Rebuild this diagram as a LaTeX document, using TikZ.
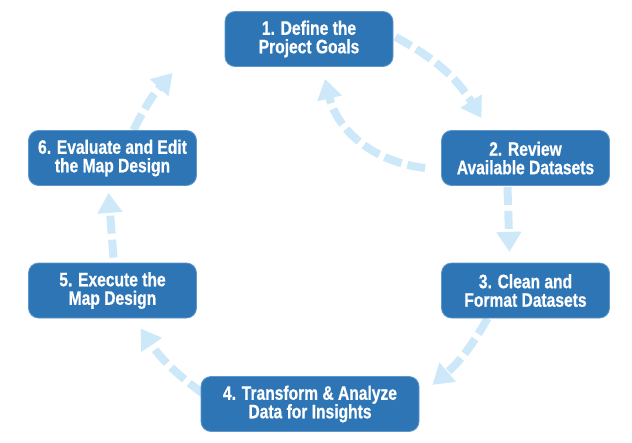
\documentclass[tikz,border=0pt]{standalone}
\usepackage{fontspec}
\newfontfamily\boxfont{Liberation Sans}[FakeStretch=0.8,FakeBold=0.6]
\usetikzlibrary{arrows.meta,calc,backgrounds}
\definecolor{boxblue}{HTML}{2E75B6}
\definecolor{boxedge}{HTML}{5E97CC}
\definecolor{arrowc}{HTML}{CDE8F9}
\tikzset{
  stepbox/.style={rectangle, rounded corners=10pt, fill=boxblue, draw=boxedge, line width=0.8pt,
    text=white, font=\boxfont\bfseries\fontsize{19.5}{18.5}\selectfont, align=center,
    minimum width=168pt, minimum height=55pt, inner sep=0pt},
  flow/.style={draw=arrowc, line width=8pt, dash pattern=on 18pt off 6pt,
    -{Triangle[width=24pt,length=20pt,fill=arrowc]}}
}
\begin{document}
\begin{tikzpicture}[x=1pt,y=-1pt]
\useasboundingbox (0,0) rectangle (632,442);
\node[stepbox] (n1) at (309,39) {1. Define the\\Project Goals};
\node[stepbox] (n2) at (525.5,158) {2. Review\\Available Datasets};
\node[stepbox] (n3) at (525.5,290.5) {3. Clean and\\Format Datasets};
\node[stepbox, minimum width=218pt] (n4) at (310,404) {4. Transform \& Analyze\\Data for Insights};
\node[stepbox] (n5) at (112.5,290.5) {5. Execute the\\Map Design};
\node[stepbox] (n6) at (112.5,158) {6. Evaluate and Edit\\the Map Design};
\begin{scope}[on background layer]
\draw[flow] ($(n1.east)+(2,-2)$) to[bend left=15] ($(n2.north)+(-44,-12)$);
\draw[flow] ($(n2.west)+(-16,10)$) to[bend left=35] ($(n1.south)+(16,12)$);
\draw[flow] ($(n2.south)+(-18,1)$) -- ($(n2.south)+(-16,66)$);
\draw[flow] ($(n3.south)+(-38,0)$) to[bend left=10] ($(n4.east)+(13,-19)$);
\draw[flow] ($(n4.west)+(3,-10)$) to[bend left=10] ($(n5.south)+(28,10)$);
\draw[flow] ($(n5.north)+(1,-5)$) -- ($(n6.south)+(-4,7)$);
\draw[flow] ($(n6.north)+(21,0)$) to[bend left=8] ($(n1.west)+(-52,34)$);
\end{scope}
\end{tikzpicture}
\end{document}
